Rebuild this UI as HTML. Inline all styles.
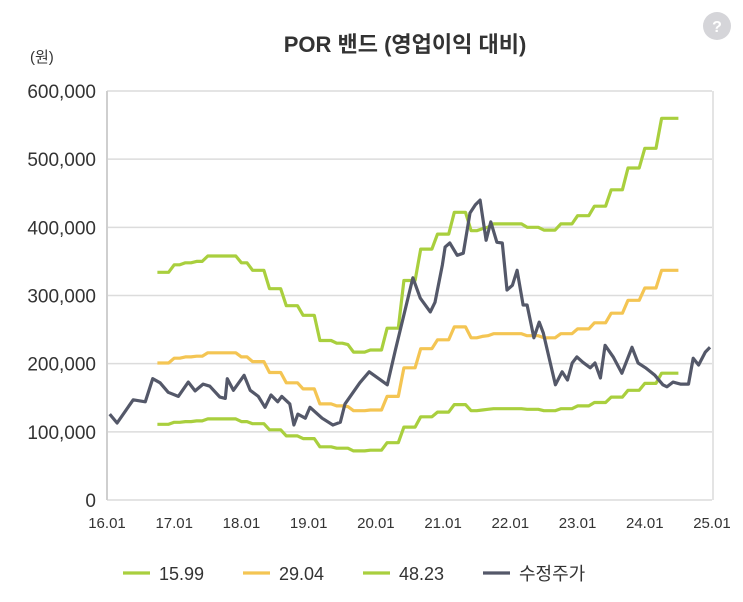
<!DOCTYPE html>
<html><head><meta charset="utf-8"><style>
body{margin:0;background:#fff;width:743px;height:597px;overflow:hidden;font-family:"Liberation Sans","Noto Sans CJK KR",sans-serif;}
svg text{font-family:"Liberation Sans","Noto Sans CJK KR",sans-serif;}
</style></head><body>
<svg id="c" width="743" height="597"></svg>
<script>
const yTicks=[0,100000,200000,300000,400000,500000,600000];
const xTicks=["16.01","17.01","18.01","19.01","20.01","21.01","22.01","23.01","24.01","25.01"];
const bandStart=16.75;
const band48=[334,334,334,345,345,348,348,350,350,358,358,358,358,358,358,348,348,337,337,337,310,310,310,285,285,285,271,271,271,234,234,234,230,230,228,217,217,217,220,220,220,252,252,252,322,322,322,368,368,368,390,390,390,422,422,422,395,395,398,400,405,405,405,405,405,405,400,400,400,396,396,396,405,405,405,417,417,417,431,431,431,455,455,455,487,487,487,516,516,516,560,560,560,560];
const band29=[201,201,201,208,208,210,210,211,211,216,216,216,216,216,216,210,210,203,203,203,187,187,187,172,172,172,163,163,163,141,141,141,138,138,137,131,131,131,132,132,132,152,152,152,194,194,194,222,222,222,235,235,235,254,254,254,238,238,240,241,244,244,244,244,244,244,241,241,241,238,238,238,244,244,244,251,251,251,260,260,260,274,274,274,293,293,293,311,311,311,337,337,337,337];
const band16=[111,111,111,114,114,115,115,116,116,119,119,119,119,119,119,115,115,112,112,112,103,103,103,94,94,94,90,90,90,78,78,78,76,76,76,72,72,72,73,73,73,84,84,84,107,107,107,122,122,122,129,129,129,140,140,140,131,131,132,133,134,134,134,134,134,134,133,133,133,131,131,131,134,134,134,138,138,138,143,143,143,151,151,151,161,161,161,171,171,171,186,186,186,186];
const priceDates=[0.04,0.15,0.39,0.57,0.68,0.79,0.91,1.06,1.21,1.31,1.43,1.53,1.68,1.76,1.79,1.88,2.04,2.13,2.25,2.35,2.44,2.54,2.60,2.72,2.78,2.84,2.95,3.02,3.20,3.36,3.47,3.54,3.76,3.90,4.17,4.29,4.55,4.66,4.81,4.88,4.99,5.03,5.10,5.21,5.30,5.40,5.48,5.55,5.64,5.71,5.80,5.88,5.95,6.03,6.10,6.19,6.25,6.35,6.43,6.49,6.67,6.77,6.85,6.92,6.99,7.08,7.19,7.26,7.34,7.41,7.53,7.66,7.81,7.90,8.01,8.15,8.27,8.33,8.42,8.53,8.65,8.72,8.80,8.90,8.97];
const priceValues=[126,113,147,144,178,172,158,152,173,160,170,167,151,149,178,161,183,161,152,136,154,144,152,141,110,126,120,136,120,110,114,141,172,188,169,220,326,296,276,290,345,371,377,359,362,421,433,440,381,408,378,377,308,315,337,286,286,238,261,245,169,188,176,201,210,202,194,201,179,227,210,186,224,201,194,183,169,166,173,170,170,208,198,217,224];

const svg=document.getElementById('c');
const NS='http://www.w3.org/2000/svg';
const X0=107,X1=712,Y0=500,Y1=91;
const xs=t=>X0+(t)*(X1-X0)/9;
const ys=v=>Y0-v/600000*(Y0-Y1);
function mk(tag,attrs,parent){const e=document.createElementNS(NS,tag);for(const k in attrs)e.setAttribute(k,attrs[k]);(parent||svg).appendChild(e);return e;}

let t=mk('text',{x:405,y:52,'text-anchor':'middle','font-size':22,'font-weight':'bold',fill:'#333'});
t.textContent='POR 밴드 (영업이익 대비)';


t=mk('text',{x:30,y:62,'font-size':15,fill:'#333'});t.textContent='(원)';


const hg=mk('g',{});


mk('circle',{cx:717,cy:26,r:14,fill:'#d5d5d9'},hg);
t=mk('text',{x:717,y:32,'text-anchor':'middle','font-size':16,fill:'#fff','font-weight':'bold'},hg);t.textContent='?';

yTicks.forEach(v=>{
  const y=ys(v);
  const l=mk('line',{x1:X0,x2:X1,y1:y,y2:y,stroke:'#dcdcdc','stroke-width':1.5});
  
  
  const tx=mk('text',{x:96,y:y+7,'text-anchor':'end','font-size':19,fill:'#333'});
  tx.textContent=v.toLocaleString('en-US');
  
  
});
let ax=mk('line',{x1:X0,x2:X0,y1:Y1,y2:Y0,stroke:'#cfcfcf','stroke-width':2});


ax=mk('line',{x1:X1+1,x2:X1+1,y1:Y1,y2:Y0,stroke:'#dcdcdc','stroke-width':1.5});


xTicks.forEach((s,i)=>{
  const tx=mk('text',{x:xs(i),y:528,'text-anchor':'middle','font-size':15,fill:'#333'});
  tx.textContent=s;
  
  
});
function line(pts,color,name){
  const p=mk('polyline',{points:pts.map(q=>q[0].toFixed(1)+','+q[1].toFixed(1)).join(' '),fill:'none',stroke:color,'stroke-width':3.2,'stroke-linejoin':'round'});
  
  
}
const bandPts=a=>a.map((v,i)=>[xs(bandStart+i/12-16+0.0),ys(v*1000)]);
line(bandPts(band16),'#a9cf3e','band-15-99');
line(bandPts(band29),'#f4c553','band-29-04');
line(bandPts(band48),'#a9cf3e','band-48-23');
line(priceDates.map((d,i)=>[xs(d),ys(priceValues[i]*1000)]),'#545869','adjusted-price-line');

const leg=[['15.99','#a9cf3e',123],['29.04','#f4c553',243],['48.23','#a9cf3e',363],['수정주가','#545869',483]];
leg.forEach(L=>{
  const g=mk('g',{});
  
  
  mk('line',{x1:L[2],x2:L[2]+27,y1:573,y2:573,stroke:L[1],'stroke-width':3.2},g);
  const tx=mk('text',{x:L[2]+36,y:580,'font-size':18,fill:'#333'},g);
  tx.textContent=L[0];
});
</script>
</body></html>
